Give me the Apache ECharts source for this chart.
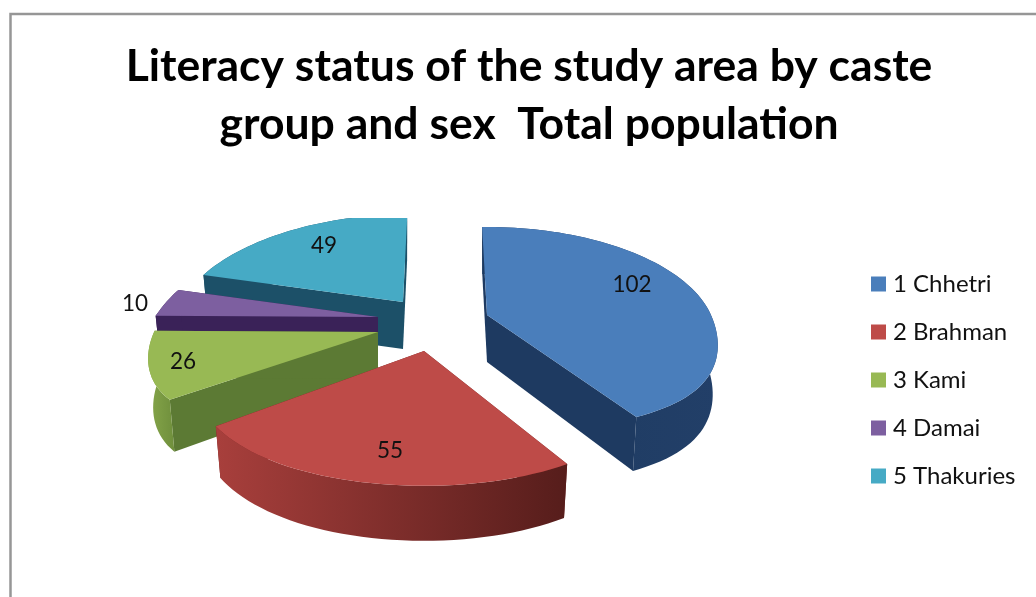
<!DOCTYPE html>
<html>
<head>
<meta charset="utf-8">
<script src="https://cdn.jsdelivr.net/npm/echarts@6/dist/echarts.min.js"></script>
<style>html,body{margin:0;padding:0;background:#fff}#c{width:1036px;height:597px}</style>
</head>
<body>
<div id="c"></div>
<script>
const titleText = 'Literacy status of the study area by caste\ngroup and sex  Total population';
const categories = ['1 Chhetri', '2 Brahman', '3 Kami', '4 Damai', '5 Thakuries'];
const values = [102, 55, 26, 10, 49];

// Appearance of each slice (top face, cut faces, outer wall left/right)
const topColors = ['#4a7ebb', '#be4b48', '#98b954', '#7d5fa0', '#46aac5'];
const cutColors = ['#1e3a61', '#6e2220', '#5c7a34', '#3a2258', '#1c5068'];
const wallColors = [['#1d3a60', '#223f68'], ['#a83f3c', '#561d1b'], ['#86a64a', '#6f8f3c'], ['#3a2258', '#3a2258'], ['#1c5068', '#1c5068']];
// Layout of the exploded 3-D pie
const pie = { cx: 431, cy: 318, a: 224, b: 106.5, k: 0.21, startDeg: -1.5, topClip: 218, taper: 0.978 };
const explode = [[56, -3], [-7, 33], [-53, 14], [-53, -1], [-28, -16]];
const labelShift = [[145, -30], [-34, 100], [-195, 30], [-243, -13], [-79, -56]];
const frontFit = [[0.13, 0.13], [0.07, 0], [0.07, 0.26], [0, 0], [0, 0]];
const backFit = [0, 0, 0, 9, 9];
const stacking = [4, 5, 3, 2, 1];
const total = values.reduce((s, v) => s + v, 0);

function sliceStart(i) {
  let sum = 0;
  for (let j = 0; j < i; j++) sum += values[j];
  return pie.startDeg + sum / total * 360;
}

function renderSlice(params, api) {
  const i = params.seriesIndex;
  const value = api.value(0);
  const ax = pie.cx + explode[i][0];
  const ay = pie.cy + explode[i][1];
  const clipY = y => Math.max(y, pie.topClip);
  const rim = deg => {
    const t = deg * Math.PI / 180;
    const X = Math.sin(t), Y = -Math.cos(t);
    const s = 1 / (1 - pie.k * Y);
    const f = Y > 0 ? Y * Y : 0;
    const back = Y < 0 ? backFit[i] * Math.sqrt(-Y) : 0;
    return {
      x: ax + pie.a * X * s * (1 + frontFit[i][0] * f) + back,
      y: ay + pie.b * Y * s * (1 - frontFit[i][1] * f),
      d: 47 + 8 * Math.max(Y, 0)
    };
  };
  const lowX = p => ax + (p.x - ax) * pie.taper;
  const start = sliceStart(i);
  const end = start + value / total * 360;
  const arc = [];
  for (let d = start; d < end; d += 2) arc.push(rim(d));
  arc.push(rim(end));

  const apexTop = [ax, ay];
  const apexBot = [ax, ay + 47];
  const cut = p => ({
    type: 'polygon',
    shape: { points: [apexTop, [p.x, clipY(p.y)], [lowX(p), p.y + p.d], apexBot] },
    style: { fill: cutColors[i] }
  });
  const wall = {
    type: 'polygon',
    shape: {
      points: arc.map(p => [p.x, clipY(p.y)]).concat(arc.slice().reverse().map(p => [lowX(p), p.y + p.d]))
    },
    style: {
      fill: new echarts.graphic.LinearGradient(0, 0, 1, 0, [
        { offset: 0, color: wallColors[i][0] },
        { offset: 1, color: wallColors[i][1] }
      ])
    }
  };
  const top = {
    type: 'polygon',
    shape: { points: [apexTop].concat(arc.map(p => [p.x, clipY(p.y)])) },
    style: { fill: topColors[i] }
  };
  const label = {
    type: 'text',
    x: ax + labelShift[i][0],
    y: ay + labelShift[i][1],
    style: {
      text: String(value),
      fill: '#111',
      font: '22.5px Lato',
      textAlign: 'center',
      textVerticalAlign: 'middle'
    }
  };
  return { type: 'group', children: [cut(arc[0]), cut(arc[arc.length - 1]), wall, top, label] };
}

const chart = echarts.init(document.getElementById('c'), null, { renderer: 'canvas' });
chart.setOption({
  animation: false,
  backgroundColor: '#ffffff',
  title: {
    text: titleText,
    left: 524,
    top: 33,
    textAlign: 'center',
    textStyle: { fontFamily: 'Lato', fontWeight: 'bold', fontSize: 44.5, lineHeight: 58, color: '#000' }
  },
  legend: {
    orient: 'vertical',
    left: 866,
    top: 265,
    icon: 'rect',
    itemWidth: 15,
    itemHeight: 15,
    itemGap: 20,
    selectedMode: false,
    data: categories,
    textStyle: { fontFamily: 'Lato', fontSize: 24, color: '#111', padding: [0, 0, 0, 2], lineHeight: 28 }
  },
  graphic: [{
    type: 'rect',
    silent: true,
    shape: { x: 10.5, y: 14, width: 1200, height: 800 },
    style: { fill: 'none', stroke: '#969696', lineWidth: 2.5 }
  }],
  series: categories.map((name, i) => ({
    type: 'custom',
    name,
    coordinateSystem: 'none',
    z: 2 + stacking[i],
    silent: true,
    itemStyle: { color: topColors[i] },
    renderItem: renderSlice,
    data: [values[i]]
  }))
});
</script>
</body>
</html>
